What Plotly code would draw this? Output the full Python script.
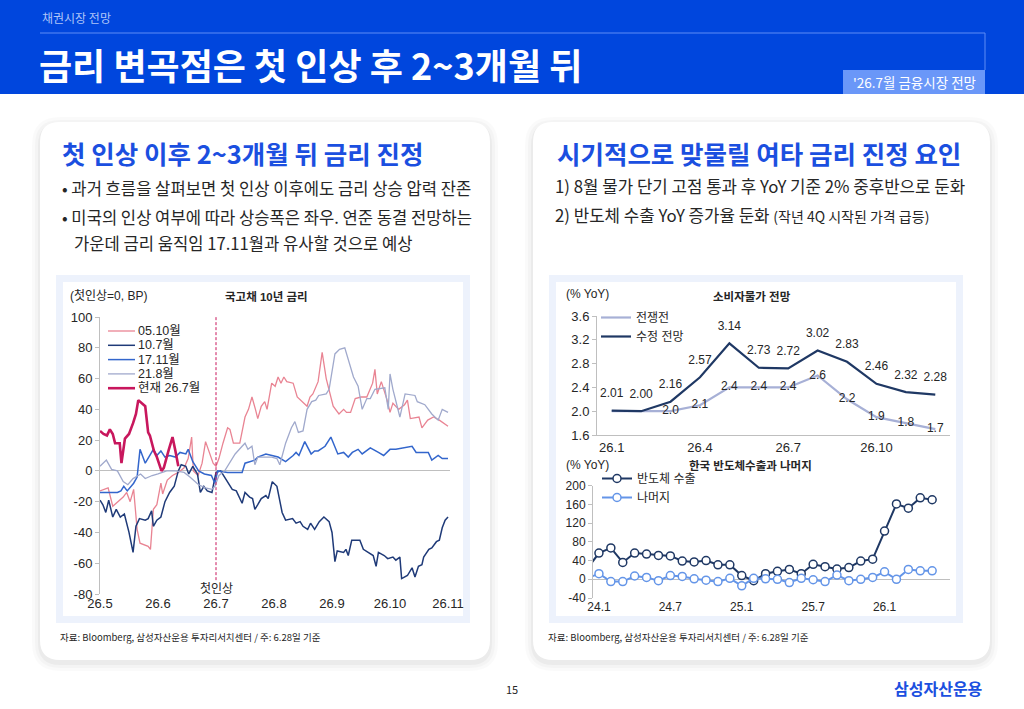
import plotly.graph_objects as go

W, H = 1024, 709
def px(x): return x / W
def py(y): return 1 - y / H

# ---------------- Left chart: 국고채 10년 금리 (첫인상=0, BP), x = month of '26 axis
s0510 = [(5.00,-13),(5.08,-12),(5.14,-11),(5.22,-23),(5.31,-20),(5.40,-17),(5.46,-14),(5.52,-20),(5.58,-12),
         (5.64,-38),(5.69,-47),(5.83,-49),(5.87,-51),(5.92,-25),(5.98,-22),(6.05,-8),(6.08,-15),(6.16,-6),
         (6.25,-3),(6.35,-1),(6.45,2),(6.52,8),(6.58,22),(6.61,0),(6.69,-3),(6.76,5),(6.82,19),(6.88,12),
         (6.95,5),(7.00,3),(7.05,8),(7.12,18),(7.20,28),(7.24,27),(7.30,18),(7.41,18),(7.50,35),(7.56,40),
         (7.62,48),(7.68,40),(7.72,34),(7.78,42),(7.84,45),(7.88,40),(7.96,57),(8.02,55),(8.07,61),(8.12,57),
         (8.17,61),(8.22,58),(8.33,57),(8.40,48),(8.48,45),(8.57,42),(8.62,48),(8.67,50),(8.76,58),(8.83,77),
         (8.90,60),(8.96,50),(9.02,42),(9.12,37),(9.20,40),(9.25,38),(9.32,38),(9.40,47),(9.50,48),(9.60,48),
         (9.70,57),(9.74,66),(9.78,50),(9.85,58),(9.90,52),(9.95,46),(10.00,38),(10.05,44),(10.15,40),
         (10.25,43),(10.30,46),(10.35,34),(10.50,35),(10.55,28),(10.65,33),(10.75,35),(10.85,33),(11.00,29)]
s1007 = [(5.00,-19),(5.05,-22),(5.10,-27),(5.15,-19),(5.22,-30),(5.28,-25),(5.35,-30),(5.42,-28),(5.50,-40),
         (5.57,-53),(5.62,-36),(5.68,-31),(5.78,-32),(5.83,-31),(5.89,-26),(5.92,-36),(5.98,-32),(6.05,-30),
         (6.12,-20),(6.20,-14),(6.28,-10),(6.35,0),(6.40,4),(6.48,3),(6.53,-2),(6.60,3),(6.68,-2),(6.73,-14),
         (6.79,-10),(6.85,-13),(6.93,-14),(7.00,-1),(7.08,0),(7.15,-4),(7.22,-8),(7.28,-12),(7.35,-13),
         (7.45,-21),(7.50,-14),(7.58,-17),(7.63,-18),(7.67,-25),(7.72,-22),(7.78,-18),(7.86,-16),(7.90,-18),
         (7.97,-7),(8.05,-10),(8.14,-27),(8.20,-32),(8.32,-31),(8.38,-34),(8.45,-33),(8.50,-36),(8.58,-38),
         (8.63,-34),(8.70,-38),(8.78,-33),(8.86,-30),(8.95,-33),(9.00,-40),(9.05,-59),(9.09,-52),(9.20,-53),
         (9.24,-51),(9.28,-55),(9.34,-45),(9.48,-45),(9.54,-51),(9.62,-53),(9.71,-55),(9.76,-62),(9.80,-53),
         (9.90,-55),(9.96,-57),(10.05,-56),(10.10,-58),(10.17,-56),(10.20,-70),(10.30,-68),(10.38,-63),
         (10.43,-69),(10.49,-62),(10.55,-61),(10.58,-56),(10.67,-51),(10.72,-50),(10.80,-46),(10.85,-45),
         (10.90,-37),(10.95,-32),(11.00,-30)]
s1711 = [(5.00,-14),(5.30,-14),(5.36,-13),(5.41,-10),(5.47,-13),(5.58,-8),(5.64,-4),(5.69,14),(5.78,5),
         (5.86,10),(5.92,14),(5.98,10),(6.05,13),(6.12,9),(6.20,10),(6.30,9),(6.38,12),(6.48,11),(6.52,14),
         (6.60,6),(6.70,0),(6.80,-2),(6.92,-3),(6.98,-8),(7.03,0),(7.20,-1),(7.45,-1),(7.50,5),(7.67,7),
         (7.72,9),(7.86,11),(8.07,9),(8.20,6),(8.33,10),(8.38,12),(8.43,10),(8.53,19),(8.64,11),(8.70,13),
         (8.76,13),(8.88,16),(8.98,22),(9.05,15),(9.10,11),(9.20,12),(9.28,9),(9.35,12),(9.45,14),(9.52,11),
         (9.66,15),(9.80,12),(9.89,10),(10.00,14),(10.10,14),(10.38,16),(10.45,12),(10.66,12),(10.72,7),
         (10.83,10),(10.90,8),(11.00,8)]
s2108 = [(5.00,3),(5.11,7),(5.20,1),(5.30,0),(5.40,-7),(5.48,-9),(5.57,-5),(5.62,-4),(5.70,-2),(5.78,-5),
         (5.90,-3),(6.00,-2),(6.15,0),(6.30,0),(6.45,-1),(6.55,-4),(6.70,-9),(6.82,-11),(6.93,-12),(6.98,-10),
         (7.05,-3),(7.15,0),(7.33,11),(7.45,16),(7.50,18),(7.55,14),(7.62,16),(7.67,4),(7.72,9),(7.96,9),
         (8.05,8),(8.10,4),(8.20,18),(8.30,28),(8.36,32),(8.42,25),(8.50,26),(8.57,40),(8.65,45),(8.72,46),
         (8.77,49),(8.90,50),(8.95,53),(9.05,76),(9.13,79),(9.22,80),(9.28,72),(9.37,61),(9.45,55),(9.52,40),
         (9.60,47),(9.66,47),(9.74,53),(9.91,54),(9.97,40),(10.00,63),(10.05,53),(10.17,35),(10.26,50),
         (10.43,49),(10.47,45),(10.60,43),(10.72,37),(10.83,33),(10.90,40),(11.00,38)]
s2607 = [(5.00,26),(5.06,24),(5.12,23),(5.17,27),(5.22,24),(5.26,18),(5.34,18),(5.37,5),(5.43,21),(5.50,24),
         (5.57,31),(5.62,37),(5.66,46),(5.72,44),(5.78,42),(5.83,25),(5.86,23),(5.93,13),(5.98,9),(6.06,0),
         (6.10,2),(6.18,13),(6.25,22),(6.30,13),(6.35,3)]
left_names = ["05.10월", "10.7월", "17.11월", "21.8월", "현재 26.7월"]
left_series = [s0510, s1007, s1711, s2108, s2607]
left_colors = ["#E98493", "#1F3A78", "#3366CC", "#A0A9CC", "#C8175D"]
left_widths = [1.3, 1.5, 1.5, 1.3, 2.6]
left_tickvals = [5, 6, 7, 8, 9, 10, 11]
left_ticktext = ["26.5", "26.6", "26.7", "26.8", "26.9", "26.10", "26.11"]
left_yticks = [-80, -60, -40, -20, 0, 20, 40, 60, 80, 100]
FIRST_HIKE = 7.0

# ---------------- Right top: 소비자물가 전망
cpi_months = ["26.1", "26.2", "26.3", "26.4", "26.5", "26.6", "26.7", "26.8", "26.9", "26.10", "26.11", "26.12"]
cpi_prewar = [2.0, 2.0, 2.0, 2.1, 2.4, 2.4, 2.4, 2.6, 2.2, 1.9, 1.8, 1.7]
cpi_revised = [2.01, 2.00, 2.16, 2.57, 3.14, 2.73, 2.72, 3.02, 2.83, 2.46, 2.32, 2.28]
cpi_tick_idx = [0, 3, 6, 9]
cpi_yticks = [1.6, 2.0, 2.4, 2.8, 3.2, 3.6]

# ---------------- Right bottom: 한국 반도체수출과 나머지
semi_months = ["23.12",
               "24.1", "24.2", "24.3", "24.4", "24.5", "24.6", "24.7", "24.8", "24.9", "24.10", "24.11", "24.12",
               "25.1", "25.2", "25.3", "25.4", "25.5", "25.6", "25.7", "25.8", "25.9", "25.10", "25.11", "25.12",
               "26.1", "26.2", "26.3", "26.4", "26.5"]
semi_export = [22, 56, 67, 36, 56, 54, 51, 50, 39, 37, 40, 31, 31, 8, -3, 12, 17, 21, 12, 32, 27, 22, 25, 39, 43,
               103, 161, 152, 174, 170]
semi_rest = [2, 12, -5, -5, 7, 4, -3, 8, 6, 1, -2, -5, 2, -14, 2, 1, 0, -7, 2, -1, -5, 9, -3, 0, 4,
             16, 0, 21, 18, 18]
semi_tick_labels = ["24.1", "24.7", "25.1", "25.7", "26.1"]
semi_yticks = [-40, 0, 40, 80, 120, 160, 200]

KR = "Noto Sans CJK KR"
CH = "Liberation Sans, Noto Sans CJK KR"
TXT = "#262626"

fig = go.Figure()

for name, ser, col, wd in zip(left_names, left_series, left_colors, left_widths):
    xs = [p[0] for p in ser]
    ys = [p[1] for p in ser]
    fig.add_trace(go.Scatter(x=xs, y=ys, mode="lines", name=name, line=dict(color=col, width=wd),
                             xaxis="x", yaxis="y", showlegend=False))

cpi_x = list(range(len(cpi_months)))
fig.add_trace(go.Scatter(x=cpi_x, y=cpi_prewar, mode="lines+text", name="전쟁전",
                         line=dict(color="#A7B0D6", width=2.2),
                         text=["" if i < 2 else f"{v:.1f}" for i, v in enumerate(cpi_prewar)],
                         textposition="middle center", textfont=dict(family=CH, size=12, color=TXT),
                         xaxis="x2", yaxis="y2", legend="legend2"))
fig.add_trace(go.Scatter(x=cpi_x, y=cpi_revised, mode="lines", name="수정 전망",
                         line=dict(color="#1F3864", width=2.2),
                         xaxis="x2", yaxis="y2", legend="legend2"))
fig.add_trace(go.Scatter(x=cpi_x, y=cpi_revised, mode="markers+text", showlegend=False,
                         marker=dict(size=15, opacity=0),
                         text=[f"{v:.2f}" for v in cpi_revised],
                         textposition="top center", textfont=dict(family=CH, size=12, color=TXT),
                         xaxis="x2", yaxis="y2"))

semi_x = list(range(-1, len(semi_months) - 1))
fig.add_trace(go.Scatter(x=semi_x, y=semi_export, mode="lines+markers", name="반도체 수출",
                         line=dict(color="#1F3864", width=2),
                         marker=dict(size=8, color="white", line=dict(color="#1F3864", width=1.5)),
                         xaxis="x3", yaxis="y3", legend="legend3"))
fig.add_trace(go.Scatter(x=semi_x, y=semi_rest, mode="lines+markers", name="나머지",
                         line=dict(color="#6495E8", width=2),
                         marker=dict(size=8, color="white", line=dict(color="#6495E8", width=1.5)),
                         xaxis="x3", yaxis="y3", legend="legend3"))

def rrect(x0, y0, x1, y1, r):
    def P(x, y): return f"{px(x)},{py(y)}"
    return (f"M {P(x0+r,y0)} L {P(x1-r,y0)} Q {P(x1,y0)} {P(x1,y0+r)} L {P(x1,y1-r)} "
            f"Q {P(x1,y1)} {P(x1-r,y1)} L {P(x0+r,y1)} Q {P(x0,y1)} {P(x0,y1-r)} "
            f"L {P(x0,y0+r)} Q {P(x0,y0)} {P(x0+r,y0)} Z")

shapes = []
def rect(x0, y0, x1, y1, color):
    shapes.append(dict(type="rect", xref="paper", yref="paper", x0=px(x0), x1=px(x1), y0=py(y1), y1=py(y0),
                       fillcolor=color, line=dict(width=0), layer="below"))

rect(0, 0, 1024, 94, "#0046DD")
shapes.append(dict(type="line", xref="paper", yref="paper", x0=px(40), x1=px(985), y0=py(33), y1=py(33),
                   line=dict(color="#5E8CF5", width=1), layer="below"))
shapes.append(dict(type="line", xref="paper", yref="paper", x0=px(985), x1=px(985), y0=py(33), y1=py(70),
                   line=dict(color="#5E8CF5", width=1), layer="below"))
rect(843, 70, 985, 94, "#6A97F8")

for (cx0, cx1) in [(40, 490), (533, 990)]:
    for k, a in [(8, 0.018), (5, 0.025), (2, 0.035)]:
        shapes.append(dict(type="path", xref="paper", yref="paper",
                           path=rrect(cx0 - k, 122 - k + 3, cx1 + k, 660 + k + 3, 20 + k),
                           fillcolor=f"rgba(0,0,0,{a})", line=dict(width=0), layer="below"))
    shapes.append(dict(type="path", xref="paper", yref="paper", path=rrect(cx0, 122, cx1, 660, 20),
                       fillcolor="#FFFFFF", line=dict(width=0), layer="below"))

rect(56, 275, 470, 623, "#EDF2FC")
rect(63, 282, 463, 616, "#FFFFFF")
rect(549, 275, 963, 623, "#EDF2FC")
rect(556, 282, 956, 616, "#FFFFFF")

shapes.append(dict(type="line", xref="x", yref="y", x0=FIRST_HIKE, x1=FIRST_HIKE, y0=-71, y1=100,
                   line=dict(color="#C8175D", width=1, dash="3px,2px"), layer="above"))

ann = []
def text(x, y, s, size, color=TXT, bold=False, xanchor="left", family=KR):
    ann.append(dict(xref="paper", yref="paper", x=px(x), y=py(y), text=f"<b>{s}</b>" if bold else s,
                    showarrow=False, xanchor=xanchor, yanchor="middle",
                    font=dict(family=family, size=size, color=color)))

for i, (name, col, wd) in enumerate(zip(left_names, left_colors, left_widths)):
    ly = 331 + i * 14.3
    shapes.append(dict(type="line", xref="paper", yref="paper", x0=px(108), x1=px(135), y0=py(ly), y1=py(ly),
                       line=dict(color=col, width=wd), layer="above"))
    text(136, ly, name, 12.5, family=CH)

text(40, 18, "채권시장 전망", 12, "#AFC5F8")
text(37, 64, "금리 변곡점은 첫 인상 후 2~3개월 뒤", 36, "#FFFFFF", bold=True)
text(914, 82, "'26.7월 금융시장 전망", 13.5, "#FFFFFF", xanchor="center")

text(60, 152, "첫 인상 이후 2~3개월 뒤 금리 진정", 25.5, "#1B4FE0", bold=True)
text(60, 188, "• 과거 흐름을 살펴보면 첫 인상 이후에도 금리 상승 압력 잔존", 16.6)
text(60, 217, "• 미국의 인상 여부에 따라 상승폭은 좌우. 연준 동결 전망하는", 16.6)
text(72, 243, "가운데 금리 움직임 17.11월과 유사할 것으로 예상", 16.6)

text(555, 152, "시기적으로 맞물릴 여타 금리 진정 요인", 25.5, "#1B4FE0", bold=True)
text(553, 186, "1) 8월 물가 단기 고점 통과 후 YoY 기준 2% 중후반으로 둔화", 16.8)
text(553, 215, "2) 반도체 수출 YoY 증가율 둔화 <span style='font-size:14px'>(작년 4Q 시작된 가격 급등)</span>", 16.8)

text(68, 296, "(첫인상=0, BP)", 12, family=CH)
text(266, 296, "국고채 10년 금리", 11.5, bold=True, xanchor="center", family=CH)
text(564, 294, "(% YoY)", 12, family=CH)
text(752, 296, "소비자물가 전망", 11.5, bold=True, xanchor="center", family=CH)
text(564, 465, "(% YoY)", 12, family=CH)
text(750, 465, "한국 반도체수출과 나머지", 11.5, bold=True, xanchor="center", family=CH)
ann.append(dict(xref="x", yref="y", x=FIRST_HIKE, y=-77, text="첫인상", showarrow=False,
                xanchor="center", yanchor="middle", font=dict(family=CH, size=12, color=TXT)))

text(58, 637, "자료: Bloomberg, 삼성자산운용 투자리서치센터 / 주: 6.28일 기준", 9.5)
text(546, 637, "자료: Bloomberg, 삼성자산운용 투자리서치센터 / 주: 6.28일 기준", 9.5)
text(512, 689, "15", 11, xanchor="center")
text(985, 688, "삼성자산운용", 16, "#1B4FE0", bold=True, xanchor="right")

axc = "#BFBFBF"
def yax(ticks, fmt, size):
    return dict(showline=True, linecolor=axc, linewidth=1, ticks="outside", ticklen=4, tickcolor=axc,
                showgrid=False, zeroline=False, tickvals=ticks, ticktext=[fmt.format(t) for t in ticks],
                tickfont=dict(family=CH, size=size, color=TXT), fixedrange=True, automargin=False)

ya1 = yax(left_yticks, "{}", 13); ya1.update(zeroline=True, zerolinecolor=axc, zerolinewidth=1)
ya2 = yax(cpi_yticks, "{:.1f}", 13)
ya3 = yax(semi_yticks, "{}", 12); ya3.update(zeroline=True, zerolinecolor=axc, zerolinewidth=1)

fig.update_layout(
    width=W, height=H, margin=dict(l=0, r=0, t=0, b=0, pad=0, autoexpand=False),
    paper_bgcolor="#FFFFFF", plot_bgcolor="rgba(0,0,0,0)",
    shapes=shapes, annotations=ann, hovermode=False,
    xaxis=dict(domain=[px(100), px(450)], range=[5.0, 11.034], tickvals=left_tickvals, ticktext=left_ticktext,
               showline=False, showgrid=False, zeroline=False, ticks="", automargin=False,
               tickfont=dict(family=CH, size=13, color=TXT), anchor="y"),
    yaxis=dict(domain=[py(594), py(317)], range=[-80, 100], anchor="x", **ya1),
    xaxis2=dict(domain=[px(597), px(950)], range=[-0.5, 11.5], tickvals=cpi_tick_idx,
                ticktext=[cpi_months[i] for i in cpi_tick_idx], showline=True, linecolor=axc, ticks="",
                showgrid=False, zeroline=False, automargin=False,
                tickfont=dict(family=CH, size=13, color=TXT), anchor="y2"),
    yaxis2=dict(domain=[py(435), py(316)], range=[1.6, 3.6], anchor="x2", **ya2),
    xaxis3=dict(domain=[px(593), px(950)], range=[-0.5, 29.5],
                tickvals=[semi_months.index(m) - 1 for m in semi_tick_labels], ticktext=semi_tick_labels,
                showline=False, ticks="", showgrid=False, zeroline=False, automargin=False,
                tickfont=dict(family=CH, size=12, color=TXT), anchor="y3"),
    yaxis3=dict(domain=[py(598), py(485.7)], range=[-40, 200], anchor="x3", **ya3),
    legend2=dict(x=px(596), y=py(303), xanchor="left", yanchor="top", bgcolor="rgba(0,0,0,0)",
                 font=dict(family=CH, size=12, color=TXT)),
    legend3=dict(x=px(597), y=py(464), xanchor="left", yanchor="top", bgcolor="rgba(0,0,0,0)",
                 font=dict(family=CH, size=12, color=TXT)),
)

fig.write_html("out.html")
